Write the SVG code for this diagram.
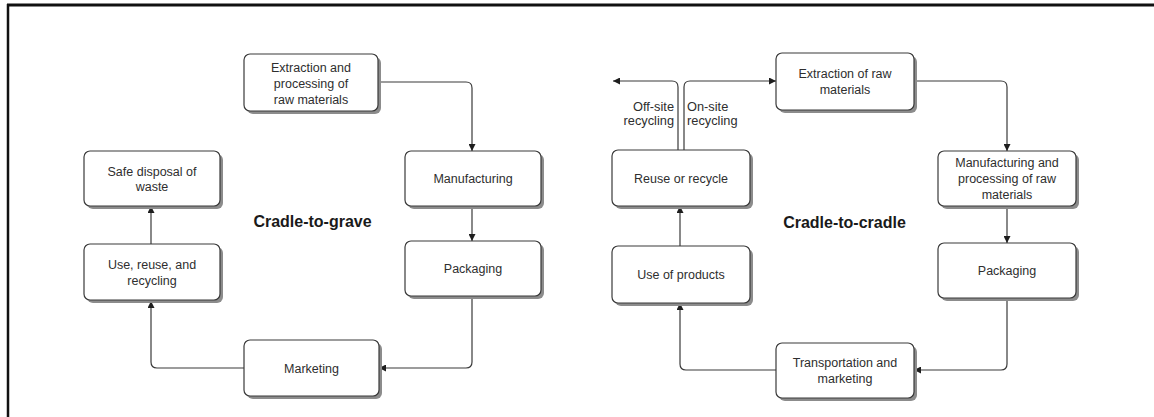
<svg xmlns="http://www.w3.org/2000/svg" width="1154" height="417" viewBox="0 0 1154 417">
  <style>
    .box { fill: #ffffff; stroke: #3a3a3a; stroke-width: 1.2; }
    .shadow { fill: #8c8c8c; }
    .label { font-family: "Liberation Sans", Arial, sans-serif; font-size: 12.5px; fill: #2e2e2e; text-anchor: middle; }
    .side { font-family: "Liberation Sans", Arial, sans-serif; font-size: 12.8px; fill: #2e2e2e; }
    .title { font-family: "Liberation Sans", Arial, sans-serif; font-size: 16px; font-weight: bold; fill: #1a1a1a; text-anchor: middle; }
    .link { fill: none; stroke: #3a3a3a; stroke-width: 1.2; marker-end: url(#arrow); }
    .frame { stroke: #111111; fill: none; }
  </style>
  <defs>
    <marker id="arrow" viewBox="0 0 10 10" refX="10" refY="5" markerWidth="7" markerHeight="7" markerUnits="userSpaceOnUse" orient="auto">
      <path d="M0,0 L10,5 L0,10 z" fill="#1e1e1e"/>
    </marker>
  </defs>

  <rect width="1154" height="417" fill="#ffffff"/>

  <!-- outer frame: top and left edges only -->
  <line class="frame" x1="7" y1="5" x2="1154" y2="5" stroke-width="3"/>
  <line class="frame" x1="8" y1="4" x2="8" y2="417" stroke-width="2.5"/>

  <!-- section titles -->
  <text class="title" x="312.5" y="227">Cradle-to-grave</text>
  <text class="title" x="844.5" y="228">Cradle-to-cradle</text>

  <!-- connectors -->
  <g id="connectors">
    <!-- cradle-to-grave loop -->
    <path class="link" d="M378,82 H466 Q472,82 472,88 V151"/>
    <path class="link" d="M472,206 V241"/>
    <path class="link" d="M472,296 V362 Q472,368 466,368 H379"/>
    <path class="link" d="M244,368 H157 Q151,368 151,362 V301"/>
    <path class="link" d="M151,244 V206"/>

    <!-- cradle-to-cradle loop -->
    <path class="link" d="M914,81 H1001 Q1007,81 1007,87 V151"/>
    <path class="link" d="M1007,206 V243"/>
    <path class="link" d="M1007,298 V364 Q1007,370 1001,370 H914"/>
    <path class="link" d="M776,370 H686 Q680,370 680,364 V303"/>
    <path class="link" d="M680,246 V206"/>

    <!-- recycling branches -->
    <path class="link" d="M678,150 V87 Q678,81 672,81 H613"/>
    <path class="link" d="M684,150 V87 Q684,81 690,81 H776"/>
  </g>

  <text class="side" x="674" y="111" text-anchor="end">Off-site</text>
  <text class="side" x="674" y="125" text-anchor="end">recycling</text>
  <text class="side" x="687" y="111">On-site</text>
  <text class="side" x="687" y="125">recycling</text>

  <!-- cradle-to-grave nodes -->
  <g id="g-extraction">
    <rect class="shadow" x="247" y="57" width="134" height="57" rx="6"/>
    <rect class="box" x="244" y="54" width="134" height="57" rx="6"/>
    <text class="label" x="311" y="71.5">Extraction and</text>
    <text class="label" x="311" y="87.5">processing of</text>
    <text class="label" x="311" y="103.5">raw materials</text>
  </g>
  <g id="g-manufacturing">
    <rect class="shadow" x="408" y="154" width="136" height="55" rx="6"/>
    <rect class="box" x="405" y="151" width="136" height="55" rx="6"/>
    <text class="label" x="473" y="183">Manufacturing</text>
  </g>
  <g id="g-packaging">
    <rect class="shadow" x="408" y="244" width="136" height="55" rx="6"/>
    <rect class="box" x="405" y="241" width="136" height="55" rx="6"/>
    <text class="label" x="473" y="273">Packaging</text>
  </g>
  <g id="g-marketing">
    <rect class="shadow" x="247" y="343" width="135" height="56" rx="6"/>
    <rect class="box" x="244" y="340" width="135" height="56" rx="6"/>
    <text class="label" x="311.5" y="372.5">Marketing</text>
  </g>
  <g id="g-use">
    <rect class="shadow" x="87" y="247" width="136" height="56" rx="6"/>
    <rect class="box" x="84" y="244" width="136" height="56" rx="6"/>
    <text class="label" x="152" y="269">Use, reuse, and</text>
    <text class="label" x="152" y="285">recycling</text>
  </g>
  <g id="g-disposal">
    <rect class="shadow" x="87" y="154" width="136" height="55" rx="6"/>
    <rect class="box" x="84" y="151" width="136" height="55" rx="6"/>
    <text class="label" x="152" y="175.5">Safe disposal of</text>
    <text class="label" x="152" y="191">waste</text>
  </g>

  <!-- cradle-to-cradle nodes -->
  <g id="c-extraction">
    <rect class="shadow" x="779" y="56" width="138" height="57" rx="6"/>
    <rect class="box" x="776" y="53" width="138" height="57" rx="6"/>
    <text class="label" x="845" y="78">Extraction of raw</text>
    <text class="label" x="845" y="94">materials</text>
  </g>
  <g id="c-manufacturing">
    <rect class="shadow" x="941" y="154" width="138" height="55" rx="6"/>
    <rect class="box" x="938" y="151" width="138" height="55" rx="6"/>
    <text class="label" x="1007" y="167">Manufacturing and</text>
    <text class="label" x="1007" y="183">processing of raw</text>
    <text class="label" x="1007" y="199">materials</text>
  </g>
  <g id="c-packaging">
    <rect class="shadow" x="941" y="246" width="138" height="55" rx="6"/>
    <rect class="box" x="938" y="243" width="138" height="55" rx="6"/>
    <text class="label" x="1007" y="275">Packaging</text>
  </g>
  <g id="c-transport">
    <rect class="shadow" x="779" y="346" width="138" height="55" rx="6"/>
    <rect class="box" x="776" y="343" width="138" height="55" rx="6"/>
    <text class="label" x="845" y="367">Transportation and</text>
    <text class="label" x="845" y="383">marketing</text>
  </g>
  <g id="c-use">
    <rect class="shadow" x="615" y="249" width="138" height="57" rx="6"/>
    <rect class="box" x="612" y="246" width="138" height="57" rx="6"/>
    <text class="label" x="681" y="279">Use of products</text>
  </g>
  <g id="c-reuse">
    <rect class="shadow" x="615" y="153" width="138" height="56" rx="6"/>
    <rect class="box" x="612" y="150" width="138" height="56" rx="6"/>
    <text class="label" x="681" y="182.5">Reuse or recycle</text>
  </g>
</svg>
